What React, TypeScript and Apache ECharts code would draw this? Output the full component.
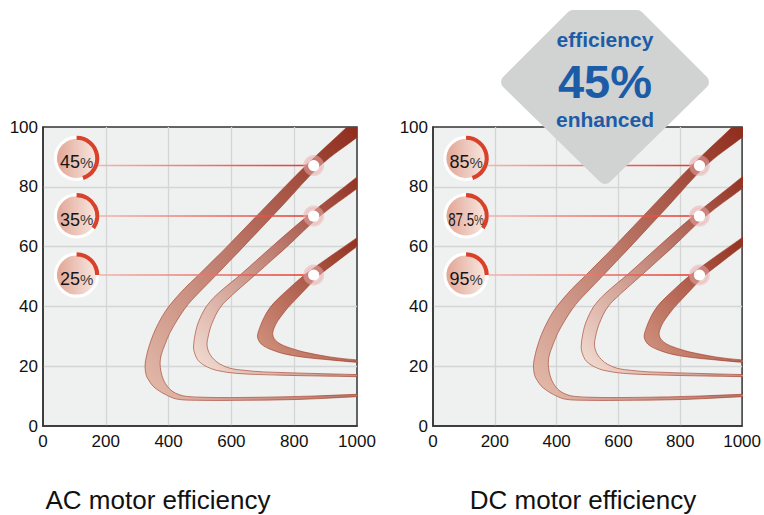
import React, { useEffect, useRef } from 'react';
import * as echarts from 'echarts';

// Axis ranges / ticks
const xMin = 0, xMax = 1000, xStep = 200;
const yMin = 0, yMax = 100, yStep = 20;

// Band contours (data units): outer edge and inner edge, top-right -> around vertex -> bottom-right
const band1Outer = [[1006,104],[968,100],[838,87.2],[711,73.6],[585,59.9],[490,50],[450.6,46],[417.2,42.1],[390.4,38.5],[368.8,34.6],[351,30.6],[338.2,26.8],[329.6,23.4],[324.8,20.1],[329,16.9],[336.3,15.4],[349,13.5],[366.2,12],[390.1,10.5],[426.1,9],[488.9,8.6],[649,8.6],[818.5,8.9],[1000,9.8],[1060,10]];
const band1Inner = [[1045,100],[1000,96.5],[884.1,87.2],[765,74],[637.9,59.9],[547.1,50],[473.9,42.1],[450,39],[426.8,35.3],[402.9,30.9],[386.9,26.8],[376.4,23.7],[372.9,21],[375.8,18.2],[383.8,15.4],[396.5,13.2],[410.8,11.7],[433.1,10.5],[458,9.9],[515.9,9.6],[595.9,9.5],[818.5,9.9],[1000,10.6],[1060,10.8]];
const band2Outer = [[1041.4,87],[1000,83.3],[842,70.2],[728,59.9],[633.1,51],[554.1,44],[519.1,39.8],[495.2,34.8],[484.7,30.8],[479.3,26.4],[482.8,24.4],[492,22.2],[504.8,20.9],[523.9,19.7],[552.9,18.6],[616.9,17.6],[755.1,17],[1000,16.5],[1060,16.4]];
const band2Inner = [[1041.4,82.9],[1000,79.4],[882.2,70.2],[776.1,59.9],[680.9,51],[581.2,41.7],[557.3,38.5],[543,35.5],[531.8,32.4],[525.5,29.6],[522.3,27.4],[525.5,25.4],[533.4,23.7],[546.2,22.1],[563.7,20.7],[595.9,19.3],[643.3,18.6],[701.9,18.1],[1000,17.2],[1060,17.1]];
const band3Outer = [[1041.4,66.2],[1000,63],[914,56.7],[831.5,50.4],[783.4,46],[743.9,42.1],[722.9,39.6],[705.4,36.6],[692,33.4],[684.7,31.1],[683.1,29.8],[689.5,28.1],[702.2,26.8],[722.9,25.7],[765.3,24.2],[829,23],[914,22.1],[1000,21.3],[1060,21.1]];
const band3Inner = [[1041.4,63.2],[1000,60],[940,55.3],[880,50.4],[841,46.3],[802.9,42.1],[780.3,39.6],[762.7,37.3],[746.8,35],[736.6,32.9],[731.8,31.3],[733.1,29.9],[740.4,28.7],[754.8,27.5],[776.1,26.5],[802.5,25.6],[829,24.8],[914,23.1],[1000,22.1],[1060,21.9]];

// Indicator markers
const markerCircleX = 107;
const markerCircleY = [89.5, 70.3, 50.5];
const markerLineY = [87.1, 70.2, 50.5];
const markerDotX = 862;
const gaugePct = [45, 35, 25];
const acLabels = ['45%', '35%', '25%'];
const dcLabels = ['85%', '87.5%', '95%'];

const panelTitles = ['AC motor efficiency', 'DC motor efficiency'];
const badgeLines = ['efficiency', '45%', 'enhanced'];

const bandEdges = [
  { outer: band1Outer, inner: band1Inner },
  { outer: band2Outer, inner: band2Inner },
  { outer: band3Outer, inner: band3Inner },
];
const bandLight = ['#e4bdae', '#f5e1d7', '#d39783'];
const bandDark = '#8a2313';

const FONT = "'Liberation Sans', Arial, Helvetica, sans-serif";

function bandSeries(gi: number) {
  return {
    type: 'custom',
    xAxisIndex: gi,
    yAxisIndex: gi,
    clip: true,
    z: 3,
    silent: true,
    data: bandEdges.map((_, i) => [i]),
    renderItem: (params: any, api: any) => {
      const i = params.dataIndex;
      const e = bandEdges[i];
      const pts = e.outer.concat(e.inner.slice().reverse()).map((p) => api.coord(p));
      return {
        type: 'polygon',
        shape: { points: pts, smooth: 0.35 },
        style: {
          fill: new echarts.graphic.LinearGradient(0, 1, 1, 0, [
            { offset: 0, color: bandLight[i] },
            { offset: 1, color: bandDark },
          ]),
          stroke: 'rgba(160,55,35,0.85)',
          lineWidth: 0.7,
        },
      };
    },
  };
}

function markerSeries(gi: number, labels: string[]) {
  return {
    type: 'custom',
    xAxisIndex: gi,
    yAxisIndex: gi,
    z: 5,
    silent: true,
    data: markerLineY.map((y, i) => [markerDotX, y, markerCircleX, markerCircleY[i], gaugePct[i]]),
    renderItem: (params: any, api: any) => {
      const i = params.dataIndex;
      const d = api.coord([api.value(0), api.value(1)]);
      const c = api.coord([api.value(2), api.value(3)]);
      const frac = api.value(4) / 100;
      const label = labels[i];
      const num = label.replace('%', '');
      const narrow = num.length > 2;
      const x1 = c[0] + 21;
      return {
        type: 'group',
        children: [
          {
            type: 'line',
            shape: { x1, y1: d[1], x2: d[0], y2: d[1] },
            style: {
              stroke: new echarts.graphic.LinearGradient(x1, 0, d[0], 0, [
                { offset: 0, color: '#f5b3ae' },
                { offset: 1, color: '#e5352b' },
              ], true),
              lineWidth: 1.5,
            },
          },
          { type: 'circle', shape: { cx: d[0], cy: d[1], r: 10.5 }, style: { fill: 'rgba(236,176,176,0.5)' } },
          { type: 'circle', shape: { cx: d[0], cy: d[1], r: 8 }, style: { fill: 'none', stroke: 'rgba(225,150,150,0.35)', lineWidth: 0.8 } },
          { type: 'circle', shape: { cx: d[0], cy: d[1], r: 5.6 }, style: { fill: '#ffffff' } },
          { type: 'circle', shape: { cx: c[0], cy: c[1], r: 22.7 }, style: { fill: '#ffffff' } },
          {
            type: 'circle',
            shape: { cx: c[0], cy: c[1], r: 19.6 },
            style: {
              fill: new echarts.graphic.LinearGradient(0, 0, 1, 0, [
                { offset: 0, color: '#e2a696' },
                { offset: 1, color: '#f8e7e0' },
              ]),
            },
          },
          {
            type: 'sector',
            shape: {
              cx: c[0], cy: c[1], r0: 18.6, r: 22.7,
              startAngle: -Math.PI / 2,
              endAngle: -Math.PI / 2 + frac * Math.PI * 2,
              clockwise: true,
            },
            style: { fill: '#d8412a' },
          },
          {
            type: 'text',
            x: c[0],
            y: c[1] + 4,
            scaleX: narrow ? 0.74 : 1,
            style: {
              text: '{n|' + num + '}{p|%}',
              align: 'center',
              verticalAlign: 'middle',
              rich: {
                n: { fontSize: 18, fill: '#151515', fontFamily: FONT },
                p: { fontSize: 15, fill: '#3b3b3b', fontFamily: FONT },
              },
            },
          },
        ],
      };
    },
  };
}

function axisCommon() {
  return {
    axisLine: { show: true, onZero: false, lineStyle: { color: '#333', width: 1.5 } },
    axisTick: { show: false },
    splitLine: { show: true, showMinLine: false, showMaxLine: false, lineStyle: { color: '#d4d6d5', width: 1.3 } },
  };
}

export default function App() {
  const ref = useRef<HTMLDivElement>(null);
  useEffect(() => {
    if (!ref.current) return;
    const chart = echarts.init(ref.current, undefined, { renderer: 'svg' });
    const grids = [0, 1].map((gi) => ({
      left: gi === 0 ? 43 : 433,
      top: 127,
      width: 314,
      height: 299,
      show: true,
      backgroundColor: '#eff0f0',
      borderColor: '#333',
      borderWidth: 1.5,
      containLabel: false,
    }));
    const fmt = (v: number) => String(v);
    const xAxes = [0, 1].map((gi) => ({
      type: 'value', gridIndex: gi, min: xMin, max: xMax, interval: xStep,
      ...axisCommon(),
      axisLabel: { fontSize: 17, color: '#111', margin: 7, fontFamily: FONT, formatter: fmt },
    }));
    const yAxes = [0, 1].map((gi) => ({
      type: 'value', gridIndex: gi, min: yMin, max: yMax, interval: yStep,
      ...axisCommon(),
      axisLabel: { fontSize: 17, color: '#111', margin: 5, fontFamily: FONT, formatter: fmt },
    }));
    const textStyleCommon = { align: 'center', verticalAlign: 'middle', textAlign: 'center', textVerticalAlign: 'middle', fontFamily: FONT };
    const option: any = {
      animation: false,
      textStyle: { fontFamily: FONT },
      grid: grids,
      xAxis: xAxes,
      yAxis: yAxes,
      series: [bandSeries(0), markerSeries(0, acLabels), bandSeries(1), markerSeries(1, dcLabels)],
      graphic: [
        { type: 'text', x: 158, y: 500, z: 50, style: { ...textStyleCommon, text: panelTitles[0], fill: '#111', fontSize: 26 } },
        { type: 'text', x: 583, y: 500, z: 50, style: { ...textStyleCommon, text: panelTitles[1], fill: '#111', fontSize: 26 } },
        {
          type: 'polygon', z: 100,
          shape: { points: [[573, 17], [637, 17], [702, 82], [605, 177], [508, 82]] },
          style: { fill: '#d1d2d2', stroke: '#d1d2d2', lineWidth: 14, lineJoin: 'round' },
        },
        { type: 'text', x: 605, y: 39, z: 101, style: { ...textStyleCommon, text: badgeLines[0], fill: '#1c5ca7', fontSize: 21, fontWeight: 'bold' } },
        { type: 'text', x: 605, y: 81, z: 101, style: { ...textStyleCommon, text: badgeLines[1], fill: '#1c5ca7', fontSize: 47, fontWeight: 'bold' } },
        { type: 'text', x: 605, y: 119, z: 101, style: { ...textStyleCommon, text: badgeLines[2], fill: '#1c5ca7', fontSize: 21, fontWeight: 'bold' } },
      ],
    };
    chart.setOption(option);
    return () => chart.dispose();
  }, []);
  return <div ref={ref} style={{ position: 'absolute', left: 0, top: 0, width: 764, height: 515, background: '#fff' }} />;
}
